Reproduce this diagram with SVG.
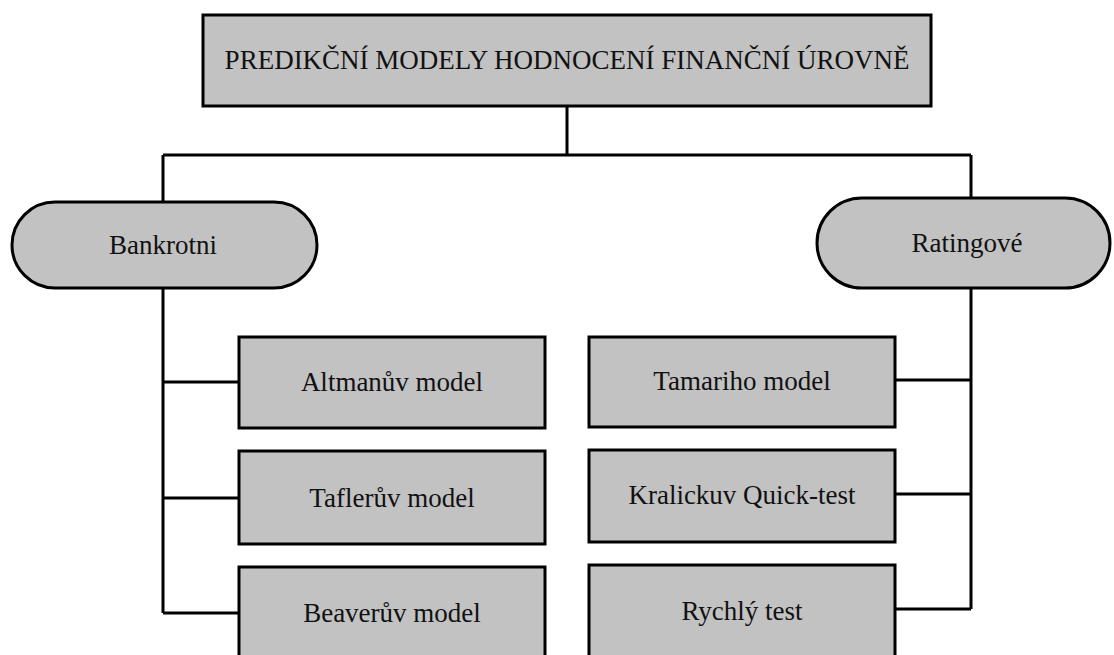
<svg xmlns="http://www.w3.org/2000/svg" width="1114" height="655" viewBox="0 0 1114 655">
<style>
.box{fill:#c2c2c2;stroke:#000;stroke-width:3}
.lbl{font-family:"Liberation Serif","Times New Roman",serif;font-size:27px;fill:#111;text-anchor:middle}
.con{fill:none;stroke:#000;stroke-width:3}
</style>
<rect width="1114" height="655" fill="#fff"/>
<g id="connectors">
<path class="con" d="M567 106V155M163 155H971M163 155V202M971 155V198"/>
<path class="con" d="M163 288V613M163 382H239M163 498H239M163 613H239"/>
<path class="con" d="M971 288V609M895 380H971M895 494H971M895 609H971"/>
</g>
<g id="title"><rect class="box" x="203" y="15" width="728" height="91"/><text class="lbl" x="567" y="69">PREDIKČNÍ MODELY HODNOCENÍ FINANČNÍ ÚROVNĚ</text></g>
<g id="bankrotni"><rect class="box" x="12" y="202" width="305" height="86" rx="43"/><text class="lbl" x="163" y="254">Bankrotni</text></g>
<g id="ratingove"><rect class="box" x="817" y="198" width="293" height="90" rx="45"/><text class="lbl" x="967" y="252">Ratingové</text></g>
<g id="altman"><rect class="box" x="239" y="337" width="306" height="91"/><text class="lbl" x="392" y="391">Altmanův model</text></g>
<g id="tafler"><rect class="box" x="239" y="451" width="306" height="93"/><text class="lbl" x="392" y="507">Taflerův model</text></g>
<g id="beaver"><rect class="box" x="239" y="567" width="306" height="100"/><text class="lbl" x="392" y="622">Beaverův model</text></g>
<g id="tamari"><rect class="box" x="589" y="337" width="306" height="90"/><text class="lbl" x="742" y="390">Tamariho model</text></g>
<g id="kralicek"><rect class="box" x="589" y="450" width="306" height="92"/><text class="lbl" x="742" y="504">Kralickuv Quick-test</text></g>
<g id="rychly"><rect class="box" x="589" y="565" width="306" height="100"/><text class="lbl" x="742" y="620">Rychlý test</text></g>
</svg>
